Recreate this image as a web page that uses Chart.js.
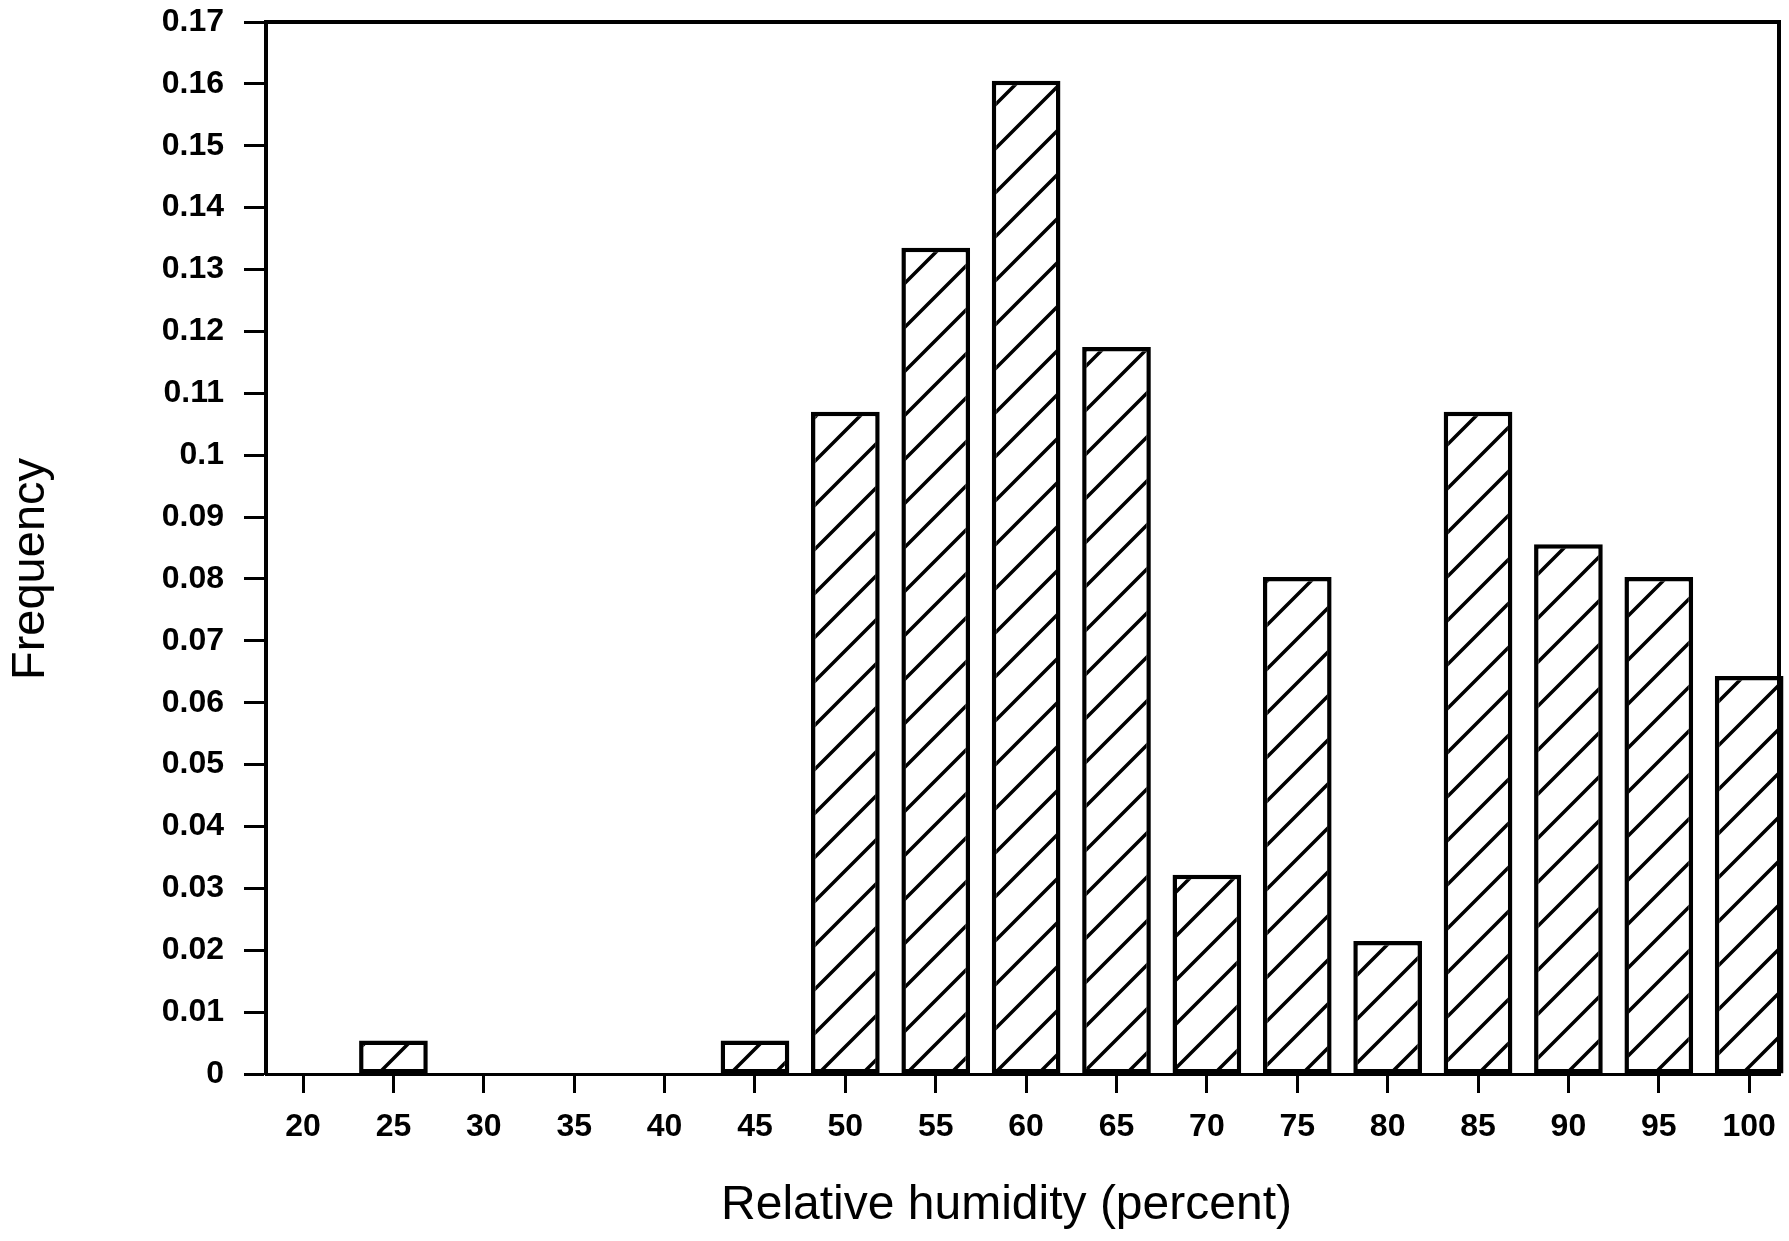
<!DOCTYPE html>
<html>
<head>
<meta charset="utf-8">
<title>Relative humidity frequency</title>
<script src="https://cdn.jsdelivr.net/npm/chart.js@4/dist/chart.umd.min.js"></script>
<style>
  html, body { margin: 0; padding: 0; background: #ffffff; }
  #wrap { width: 1789px; height: 1241px; }
</style>
</head>
<body>
<div id="wrap"><canvas id="chart" width="1789" height="1241"></canvas></div>
<script>
// Relative humidity classes (percent) and their observed frequencies
const humidityBins = [20, 25, 30, 35, 40, 45, 50, 55, 60, 65, 70, 75, 80, 85, 90, 95, 100];
const frequency = [0, 0.0054, 0, 0, 0, 0.0054, 0.107, 0.1335, 0.1605, 0.1175, 0.0322, 0.0803, 0.0215, 0.107, 0.0856, 0.0803, 0.0643];

// Axis tick values and their printed labels
const xTickLabels = ['20', '25', '30', '35', '40', '45', '50', '55', '60', '65', '70', '75', '80', '85', '90', '95', '100'];
const yTicks = [0, 0.01, 0.02, 0.03, 0.04, 0.05, 0.06, 0.07, 0.08, 0.09, 0.1, 0.11, 0.12, 0.13, 0.14, 0.15, 0.16, 0.17];
const yTickLabels = ['0', '0.01', '0.02', '0.03', '0.04', '0.05', '0.06', '0.07', '0.08', '0.09', '0.1', '0.11', '0.12', '0.13', '0.14', '0.15', '0.16', '0.17'];

const xTitle = 'Relative humidity (percent)';
const yTitle = 'Frequency';

// Diagonal "/" hatching used to fill the bars
function makeHatch() {
  const p = 44;
  const c = document.createElement('canvas');
  c.width = p; c.height = p;
  const g = c.getContext('2d');
  g.fillStyle = '#ffffff';
  g.fillRect(0, 0, p, p);
  g.strokeStyle = '#000000';
  g.lineWidth = 3.5;
  g.lineCap = 'square';
  g.beginPath();
  g.moveTo(0, p); g.lineTo(p, 0);
  g.moveTo(-3, 3); g.lineTo(3, -3);
  g.moveTo(p - 3, p + 3); g.lineTo(p + 3, p - 3);
  g.stroke();
  return g.createPattern(c, 'repeat');
}

const ctx = document.getElementById('chart').getContext('2d');
const hatch = makeHatch();

// Closes the plot box along the top and right edges
const frameBox = {
  id: 'frameBox',
  afterDatasetsDraw(chart) {
    const a = chart.chartArea;
    const g = chart.ctx;
    g.save();
    g.strokeStyle = '#000000';
    g.lineWidth = 4;
    g.lineCap = 'square';
    g.beginPath();
    g.moveTo(a.left, a.top);
    g.lineTo(a.right, a.top);
    g.lineTo(a.right, a.bottom);
    g.stroke();
    g.restore();
  }
};

// Axis titles placed around the plot box
const axisTitles = {
  id: 'axisTitles',
  afterDraw(chart) {
    const a = chart.chartArea;
    const g = chart.ctx;
    g.save();
    g.fillStyle = '#000000';
    g.textAlign = 'center';
    g.textBaseline = 'middle';
    g.font = '48px "Liberation Sans", Arial, sans-serif';
    g.fillText(xTitle, (a.left + a.right) / 2 - 16, a.bottom + 132);
    g.translate(31, (a.top + a.bottom) / 2 + 21);
    g.rotate(-Math.PI / 2);
    g.font = '47px "Liberation Sans", Arial, sans-serif';
    g.fillText(yTitle, 0, 0);
    g.restore();
  }
};

const tickFont = { family: '"Liberation Sans", Arial, sans-serif', size: 32, weight: 'bold', lineHeight: 1.0 };

new Chart(ctx, {
  type: 'bar',
  data: {
    datasets: [{
      label: yTitle,
      data: humidityBins.map((h, i) => ({ x: h, y: frequency[i] })),
      backgroundColor: hatch,
      borderColor: '#000000',
      borderWidth: 4.5,
      borderSkipped: false,
      categoryPercentage: 0.76,
      barPercentage: 1.0,
      clip: false
    }]
  },
  options: {
    responsive: false,
    animation: false,
    events: [],
    layout: { padding: { top: 22, right: 10, left: 0, bottom: 0 } },
    plugins: {
      legend: { display: false },
      tooltip: { enabled: false }
    },
    scales: {
      x: {
        type: 'linear',
        offset: false,
        min: 17.95,
        max: 101.65,
        afterBuildTicks(scale) {
          scale.ticks = humidityBins.map(v => ({ value: v }));
        },
        afterFit(scale) {
          scale.height = 167;
          scale.paddingLeft = 0;
          scale.paddingRight = 0;
        },
        grid: {
          display: true,
          offset: false,
          drawOnChartArea: false,
          drawTicks: true,
          tickLength: 19,
          tickWidth: 3,
          tickColor: '#000000'
        },
        border: { display: true, color: '#000000', width: 3 },
        ticks: {
          color: '#000000',
          font: tickFont,
          padding: 18,
          maxRotation: 0,
          autoSkip: false,
          callback: (v, i) => xTickLabels[i]
        }
      },
      y: {
        type: 'linear',
        min: 0,
        max: 0.17,
        afterBuildTicks(scale) {
          scale.ticks = yTicks.map(v => ({ value: v }));
        },
        afterFit(scale) {
          scale.width = 266;
          scale.paddingTop = 0;
          scale.paddingBottom = 0;
        },
        grid: {
          display: true,
          drawOnChartArea: false,
          drawTicks: true,
          tickLength: 22,
          tickWidth: 3,
          tickColor: '#000000'
        },
        border: { display: true, color: '#000000', width: 4 },
        ticks: {
          color: '#000000',
          font: tickFont,
          padding: 20,
          autoSkip: false,
          callback: (v, i) => yTickLabels[i]
        }
      }
    }
  },
  plugins: [frameBox, axisTitles]
});
</script>
</body>
</html>
